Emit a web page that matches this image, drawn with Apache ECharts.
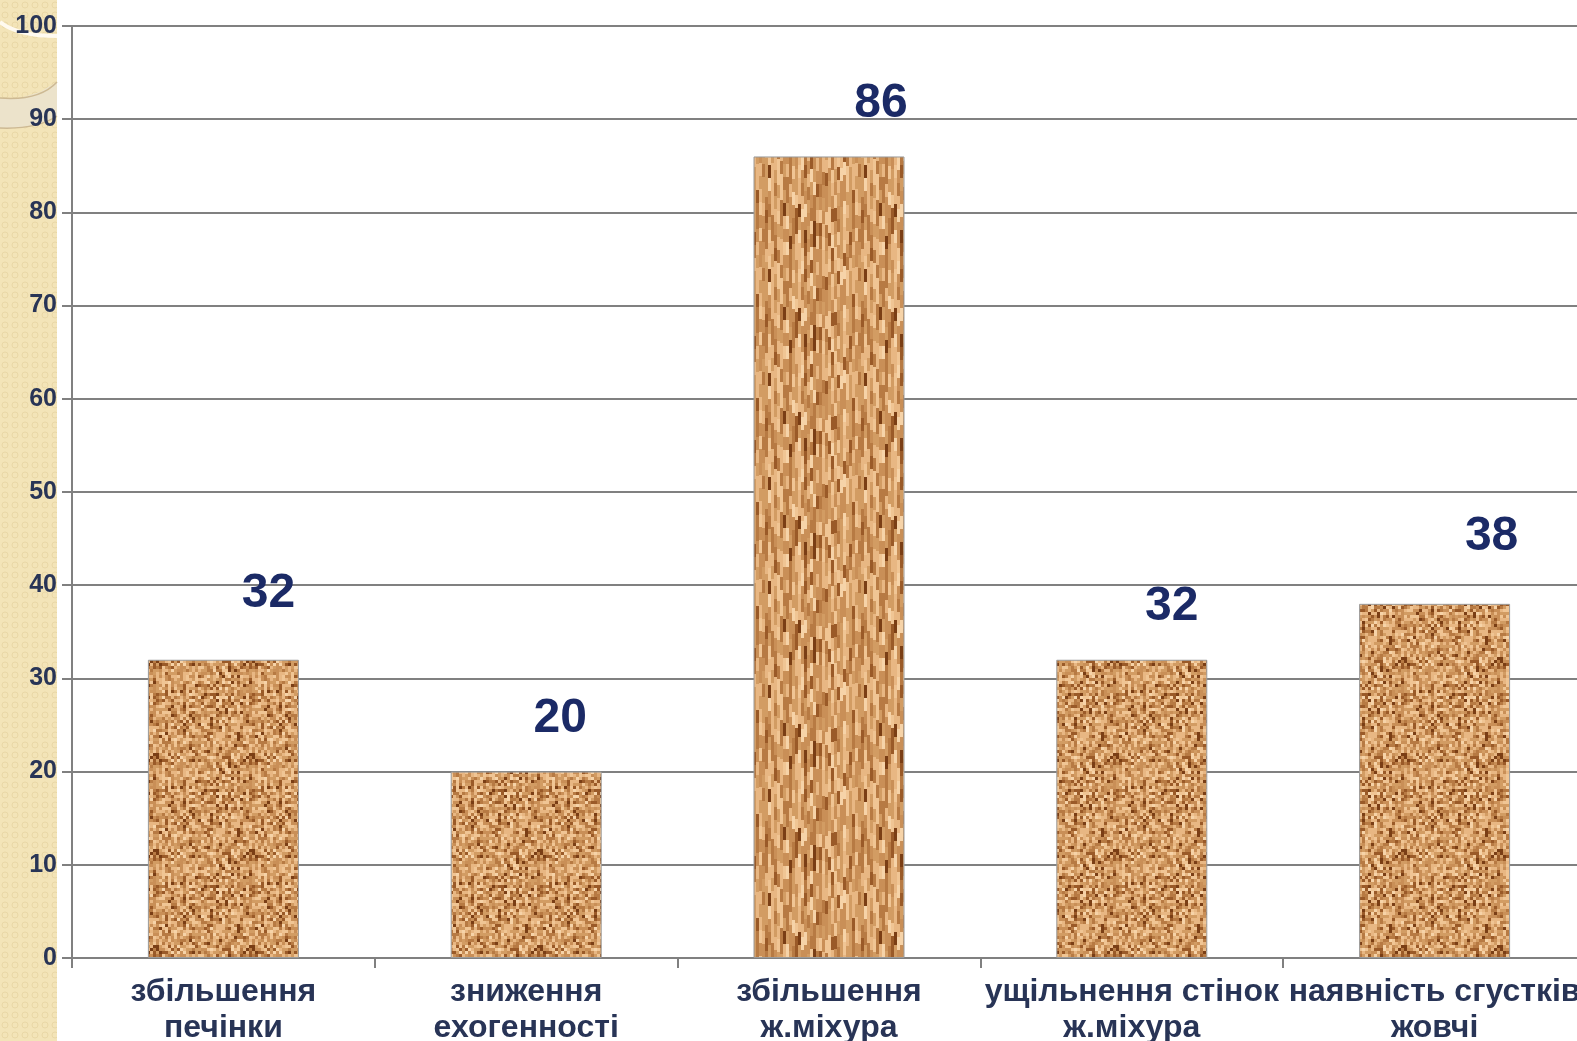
<!DOCTYPE html>
<html>
<head>
<meta charset="utf-8">
<script src="https://cdn.jsdelivr.net/npm/echarts@6/dist/echarts.min.js"></script>
<style>
  html, body { margin: 0; padding: 0; background: #ffffff; }
  #chart { width: 1577px; height: 1041px; }
</style>
</head>
<body>
<div id="chart"></div>
<script>
// data
const categories = [
  'збільшення\nпечінки',
  'зниження\nехогенності',
  'збільшення\nж.міхура',
  'ущільнення стінок\nж.міхура',
  'наявність сгустків\nжовчі'
];
const values = [32, 20, 86, 32, 38];
const yTicks = { min: 0, max: 100, interval: 10 };

// label nudges (style only)
const labelShift = [[45, -37], [34, -24], [52, -24], [40, -24], [57, -38]];

// cork-like texture, deterministic
function makeTexture(blockW, blockH, seed, stagger) {
  let s = seed;
  const rnd = () => {
    s = (s * 1103515245 + 12345) % 2147483648;
    return s / 2147483648;
  };
  const W = 96;
  const H = blockH * Math.ceil(96 / blockH);
  const c = document.createElement('canvas');
  c.width = W;
  c.height = H;
  const ctx = c.getContext('2d');
  ctx.fillStyle = '#d9a56f';
  ctx.fillRect(0, 0, W, H);
  const palette = ['#f0c594', '#e8b783', '#c98f57', '#b77a43', '#9a5a28', '#7a3e15', '#f6d3a8', '#d29c63'];
  for (let x = 0; x < W; x += blockW) {
    const off = stagger ? Math.floor(rnd() * blockH) : 0;
    for (let y = 0; y < H; y += blockH) {
      const r = rnd();
      let col;
      if (r < 0.05) col = palette[5];
      else if (r < 0.13) col = palette[4];
      else if (r < 0.28) col = palette[3];
      else if (r < 0.45) col = palette[2];
      else if (r < 0.62) col = palette[7];
      else if (r < 0.8) col = palette[1];
      else if (r < 0.93) col = palette[0];
      else col = palette[6];
      ctx.fillStyle = col;
      const yy = y + off;
      ctx.fillRect(x, yy, blockW, blockH);
      if (yy + blockH > H) ctx.fillRect(x, yy - H, blockW, blockH);
    }
  }
  return c;
}

// small ring pattern for the side strip
function makeStrip() {
  const c = document.createElement('canvas');
  c.width = 10;
  c.height = 10;
  const ctx = c.getContext('2d');
  ctx.fillStyle = '#f3e4b8';
  ctx.fillRect(0, 0, 10, 10);
  ctx.strokeStyle = '#e9d7a6';
  ctx.lineWidth = 1;
  ctx.beginPath();
  ctx.arc(5, 5, 3, 0, Math.PI * 2);
  ctx.stroke();
  return c;
}

const corkTex = makeTexture(3, 3, 7, false);
const streakTex = makeTexture(3, 13, 19, true);

const chart = echarts.init(document.getElementById('chart'));

chart.setOption({
  animation: false,
  backgroundColor: '#ffffff',
  graphic: [
    {
      type: 'rect',
      left: 0, top: 0, z: -10,
      shape: { width: 57, height: 1041 },
      style: { fill: { image: makeStrip(), repeat: 'repeat' } }
    },
    {
      type: 'polygon', z: -9,
      shape: { points: [[0, 98], [20, 98], [40, 92], [57, 82], [57, 116], [40, 124], [20, 128], [0, 128]] },
      style: { fill: '#ece3cb' }
    },
    {
      type: 'bezierCurve', z: -8,
      shape: { x1: 0, y1: 22, x2: 57, y2: 36, cpx1: 15, cpy1: 34, cpx2: 40, cpy2: 36 },
      style: { stroke: '#fffaf0', lineWidth: 4, fill: null }
    },
    {
      type: 'bezierCurve', z: -8,
      shape: { x1: 0, y1: 98, x2: 57, y2: 82, cpx1: 25, cpy1: 100, cpx2: 45, cpy2: 95 },
      style: { stroke: '#cdb993', lineWidth: 1.5, fill: null }
    },
    {
      type: 'bezierCurve', z: -8,
      shape: { x1: 0, y1: 128, x2: 57, y2: 116, cpx1: 25, cpy1: 129, cpx2: 45, cpy2: 124 },
      style: { stroke: '#cdb993', lineWidth: 1.5, fill: null }
    }
  ],
  grid: {
    left: 72,
    top: 26,
    width: 1514,
    height: 932,
    outerBoundsMode: 'none',
    containLabel: false
  },
  xAxis: {
    type: 'category',
    data: categories,
    axisLine: { lineStyle: { color: '#808080', width: 2 } },
    axisTick: { show: true, length: 10, lineStyle: { color: '#808080', width: 2 } },
    axisLabel: {
      interval: 0,
      margin: 16,
      fontFamily: 'Liberation Sans, Arial',
      fontWeight: 'bold',
      fontSize: 32,
      lineHeight: 36,
      color: '#283456'
    }
  },
  yAxis: {
    type: 'value',
    min: yTicks.min,
    max: yTicks.max,
    interval: yTicks.interval,
    axisLine: { show: true, lineStyle: { color: '#808080', width: 2 } },
    axisTick: { show: true, length: 10, lineStyle: { color: '#808080', width: 2 } },
    splitLine: { lineStyle: { color: '#808080', width: 2 } },
    axisLabel: {
      margin: 15,
      fontFamily: 'Liberation Sans, Arial',
      fontWeight: 'bold',
      fontSize: 25,
      color: '#283456'
    }
  },
  series: [
    {
      type: 'bar',
      barWidth: 151,
      data: values.map((v, i) => ({
        value: v,
        itemStyle: {
          color: { image: i === 2 ? streakTex : corkTex, repeat: 'repeat' }
        },
        label: { offset: labelShift[i] }
      })),
      itemStyle: { borderColor: '#9a9a9a', borderWidth: 1 },
      label: {
        show: true,
        position: 'top',
        fontFamily: 'Liberation Sans, Arial',
        fontWeight: 'bold',
        fontSize: 48,
        color: '#1b2a66'
      }
    }
  ]
});
</script>
</body>
</html>
